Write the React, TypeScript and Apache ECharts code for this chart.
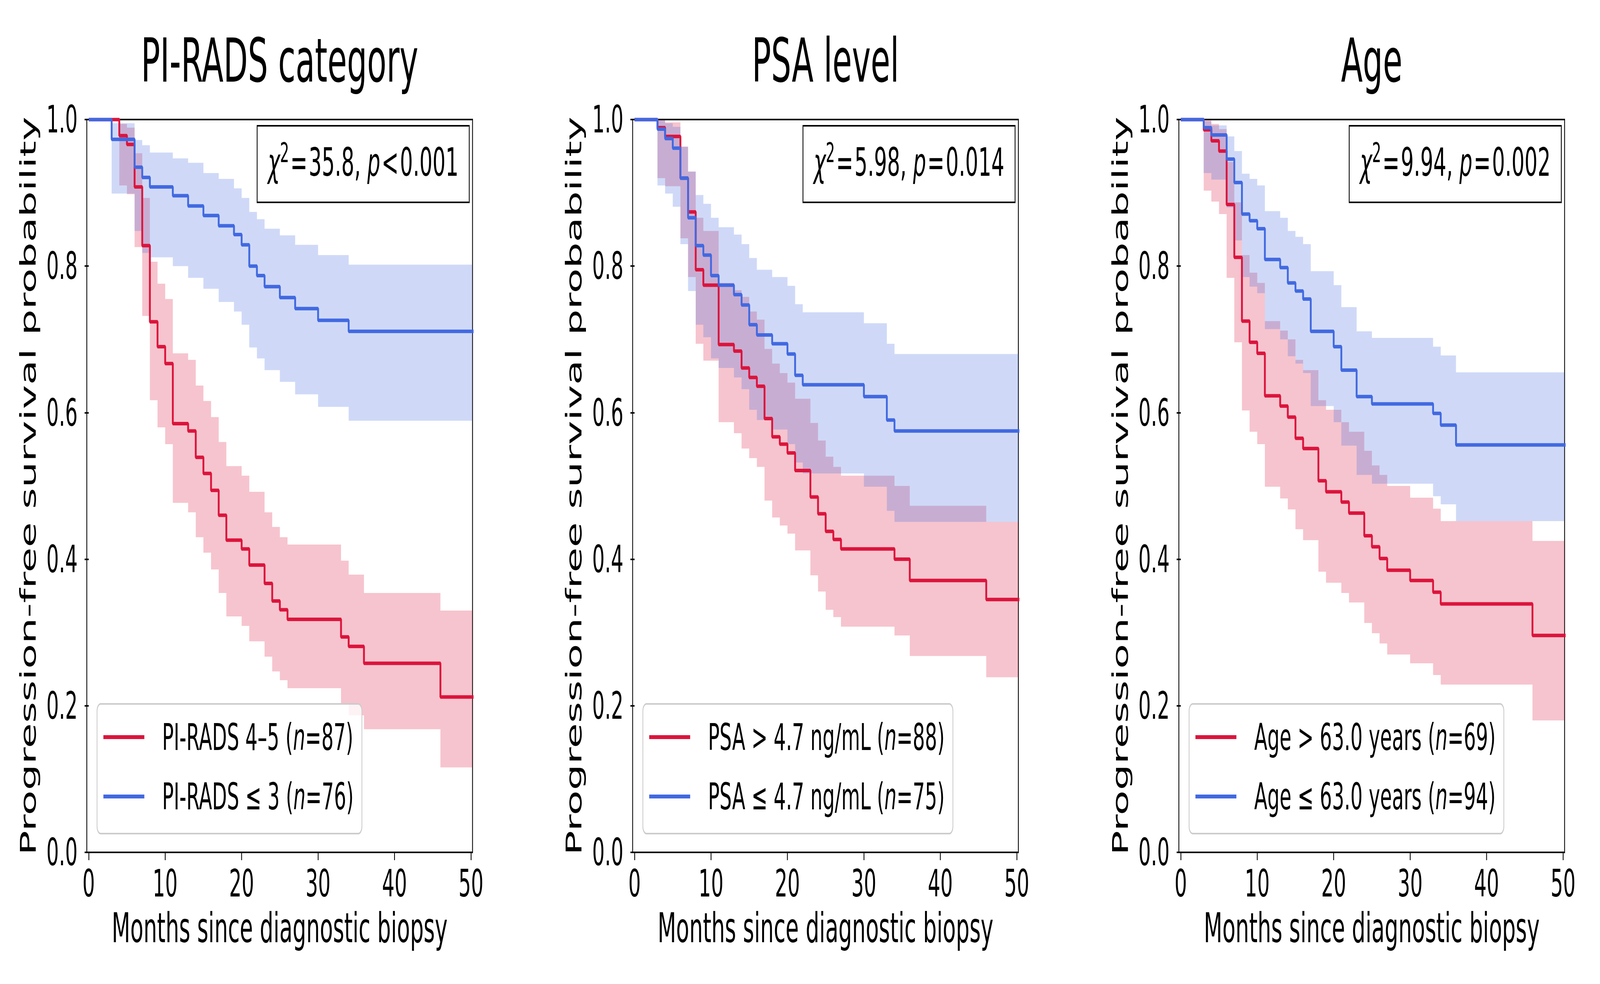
import React, { useEffect, useRef } from 'react';
import * as echarts from 'echarts';

// ---------------- data ----------------
const xTicks = [0, 10, 20, 30, 40, 50];
const yTicks = [0, 0.2, 0.4, 0.6, 0.8, 1.0];

const panelTitles = ['PI-RADS category', 'PSA level', 'Age'];
const chiSquareValues = ['35.8', '5.98', '9.94'];
const pValueTexts = ['<0.001', '=0.014', '=0.002'];
const highGroupLabels = ['PI-RADS 4–5', 'PSA > 4.7 ng/mL', 'Age > 63.0 years'];
const lowGroupLabels = ['PI-RADS ≤ 3', 'PSA ≤ 4.7 ng/mL', 'Age ≤ 63.0 years'];
const highGroupN = [87, 88, 69];
const lowGroupN = [76, 75, 94];

// Panel 1: PI-RADS 4–5
const piradsHighTimes = [0, 4, 5, 6, 7, 8, 9, 10, 11, 13, 14, 15, 16, 17, 18, 20, 21, 23, 24, 25, 26, 33, 34, 36, 46];
const piradsHighSurv = [1, 0.978, 0.966, 0.908, 0.828, 0.724, 0.69, 0.667, 0.585, 0.575, 0.539, 0.517, 0.494, 0.46, 0.426, 0.414, 0.392, 0.367, 0.343, 0.331, 0.318, 0.294, 0.281, 0.258, 0.212];
const piradsHighUpper = [1, 0.994, 0.989, 0.954, 0.893, 0.806, 0.776, 0.755, 0.681, 0.672, 0.637, 0.616, 0.594, 0.56, 0.527, 0.514, 0.492, 0.464, 0.444, 0.43, 0.42, 0.398, 0.379, 0.354, 0.33];
const piradsHighLower = [1, 0.91, 0.898, 0.826, 0.732, 0.617, 0.58, 0.557, 0.477, 0.464, 0.43, 0.409, 0.386, 0.354, 0.322, 0.309, 0.288, 0.267, 0.247, 0.235, 0.224, 0.202, 0.187, 0.168, 0.116];
// Panel 1: PI-RADS ≤ 3
const piradsLowTimes = [0, 3, 6, 7, 8, 11, 13, 15, 17, 19, 20, 21, 22, 23, 25, 27, 30, 34];
const piradsLowSurv = [1, 0.973, 0.935, 0.921, 0.908, 0.896, 0.882, 0.869, 0.855, 0.843, 0.829, 0.8, 0.787, 0.772, 0.757, 0.742, 0.726, 0.711];
const piradsLowUpper = [1, 0.995, 0.972, 0.965, 0.955, 0.947, 0.941, 0.927, 0.919, 0.906, 0.893, 0.874, 0.864, 0.851, 0.842, 0.829, 0.815, 0.802];
const piradsLowLower = [1, 0.899, 0.848, 0.818, 0.812, 0.8, 0.784, 0.769, 0.751, 0.738, 0.72, 0.689, 0.674, 0.658, 0.642, 0.625, 0.608, 0.589];

// Panel 2: PSA > 4.7
const psaHighTimes = [0, 3, 4, 6, 7, 8, 9, 11, 13, 14, 15, 16, 17, 18, 19, 20, 21, 23, 24, 25, 26, 27, 34, 36, 46];
const psaHighSurv = [1, 0.989, 0.977, 0.92, 0.874, 0.795, 0.774, 0.693, 0.684, 0.661, 0.648, 0.636, 0.592, 0.567, 0.557, 0.545, 0.521, 0.485, 0.462, 0.438, 0.427, 0.414, 0.4, 0.371, 0.345];
const psaHighUpper = [1, 1, 0.996, 0.963, 0.929, 0.866, 0.848, 0.777, 0.767, 0.758, 0.738, 0.727, 0.687, 0.667, 0.654, 0.641, 0.619, 0.586, 0.562, 0.54, 0.526, 0.514, 0.5, 0.473, 0.451];
const psaHighLower = [1, 0.92, 0.909, 0.838, 0.785, 0.694, 0.671, 0.587, 0.572, 0.551, 0.538, 0.526, 0.48, 0.457, 0.446, 0.435, 0.412, 0.378, 0.356, 0.331, 0.321, 0.308, 0.296, 0.268, 0.239];
// Panel 2: PSA ≤ 4.7
const psaLowTimes = [0, 3, 4, 5, 6, 7, 8, 9, 10, 11, 13, 14, 15, 16, 18, 20, 21, 22, 30, 33, 34];
const psaLowSurv = [1, 0.987, 0.974, 0.961, 0.92, 0.866, 0.828, 0.815, 0.787, 0.774, 0.761, 0.747, 0.72, 0.706, 0.694, 0.68, 0.651, 0.638, 0.622, 0.59, 0.575];
const psaLowUpper = [1, 0.999, 0.995, 0.99, 0.963, 0.929, 0.897, 0.885, 0.866, 0.853, 0.843, 0.83, 0.811, 0.795, 0.785, 0.773, 0.748, 0.737, 0.722, 0.694, 0.68];
const psaLowLower = [1, 0.91, 0.899, 0.881, 0.83, 0.766, 0.72, 0.703, 0.674, 0.661, 0.648, 0.632, 0.604, 0.59, 0.577, 0.557, 0.532, 0.517, 0.499, 0.466, 0.451];

// Panel 3: Age > 63.0
const ageHighTimes = [0, 3, 4, 5, 6, 7, 8, 9, 10, 11, 13, 14, 15, 16, 18, 19, 21, 22, 24, 25, 26, 27, 30, 33, 34, 46];
const ageHighSurv = [1, 0.986, 0.971, 0.957, 0.884, 0.812, 0.725, 0.696, 0.681, 0.623, 0.609, 0.594, 0.565, 0.551, 0.507, 0.492, 0.478, 0.463, 0.432, 0.417, 0.401, 0.385, 0.371, 0.355, 0.339, 0.296];
const ageHighUpper = [1, 1, 0.994, 0.987, 0.942, 0.887, 0.815, 0.791, 0.777, 0.725, 0.712, 0.7, 0.672, 0.658, 0.617, 0.604, 0.587, 0.574, 0.548, 0.528, 0.515, 0.5, 0.484, 0.469, 0.452, 0.425];
const ageHighLower = [1, 0.903, 0.888, 0.871, 0.784, 0.696, 0.603, 0.574, 0.557, 0.499, 0.483, 0.468, 0.441, 0.426, 0.383, 0.368, 0.354, 0.341, 0.313, 0.299, 0.285, 0.27, 0.258, 0.242, 0.229, 0.18];
// Panel 3: Age ≤ 63.0
const ageLowTimes = [0, 3, 4, 6, 7, 8, 9, 10, 11, 13, 14, 15, 16, 17, 20, 21, 23, 25, 33, 34, 36];
const ageLowSurv = [1, 0.989, 0.979, 0.946, 0.914, 0.871, 0.862, 0.851, 0.809, 0.798, 0.777, 0.766, 0.755, 0.711, 0.69, 0.658, 0.622, 0.612, 0.599, 0.583, 0.556];
const ageLowUpper = [1, 0.998, 0.992, 0.977, 0.957, 0.926, 0.919, 0.91, 0.875, 0.866, 0.848, 0.84, 0.83, 0.793, 0.774, 0.744, 0.711, 0.702, 0.69, 0.678, 0.655];
const ageLowLower = [1, 0.927, 0.918, 0.88, 0.835, 0.785, 0.772, 0.763, 0.714, 0.7, 0.677, 0.667, 0.654, 0.609, 0.587, 0.555, 0.515, 0.503, 0.486, 0.475, 0.452];

// last follow-up time (beyond the visible axis range, clipped)
const followUpEnd = 52;

// ---------------- styling / layout ----------------
const RED = '#DC143C';
const BLUE = '#4169E1';
const RED_BAND = 'rgba(220,20,60,0.25)';
const BLUE_BAND = 'rgba(65,105,225,0.25)';
const FONT = 'DejaVu Sans';
const W_TOTAL = 7815;
const H_TOTAL = 2519;
const PLOT_LEFTS = [424, 3090, 5758];
const PLOT_TOP = 306;
const PLOT_W = 1884;
const PLOT_H = 1876;

const groups = [
  {
    high: { t: piradsHighTimes, s: piradsHighSurv, u: piradsHighUpper, l: piradsHighLower },
    low: { t: piradsLowTimes, s: piradsLowSurv, u: piradsLowUpper, l: piradsLowLower },
  },
  {
    high: { t: psaHighTimes, s: psaHighSurv, u: psaHighUpper, l: psaHighLower },
    low: { t: psaLowTimes, s: psaLowSurv, u: psaLowUpper, l: psaLowLower },
  },
  {
    high: { t: ageHighTimes, s: ageHighSurv, u: ageHighUpper, l: ageHighLower },
    low: { t: ageLowTimes, s: ageLowSurv, u: ageLowUpper, l: ageLowLower },
  },
];

function stepData(times: number[], values: number[]) {
  const pts = times.map((t, i) => [t, values[i]]);
  pts.push([followUpEnd, values[values.length - 1]]);
  return pts;
}

// confidence band as a custom series: a step polygon drawn through api.coord
function bandSeries(p: number, key: string, g: any, fill: string) {
  return {
    type: 'custom',
    name: `band-${p}-${key}`,
    xAxisIndex: p,
    yAxisIndex: p,
    silent: true,
    z: 2,
    clip: true,
    encode: { x: 0, y: [1, 2] },
    data: g.t.map((t: number, i: number) => [t, g.l[i], g.u[i]]),
    renderItem: (params: any, api: any) => {
      if (params.dataIndex !== 0) return null;
      const cs = params.coordSys;
      const left = cs.x;
      const right = cs.x + cs.width;
      const upper: number[][] = [];
      const lower: number[][] = [];
      for (let i = 0; i < g.t.length; i++) {
        const t0 = g.t[i];
        const t1 = i + 1 < g.t.length ? g.t[i + 1] : followUpEnd;
        upper.push(api.coord([t0, g.u[i]]), api.coord([t1, g.u[i]]));
        lower.push(api.coord([t0, g.l[i]]), api.coord([t1, g.l[i]]));
      }
      const pts = upper
        .concat(lower.reverse())
        .map((pt) => [Math.min(Math.max(pt[0], left), right), pt[1]]);
      return {
        type: 'polygon',
        shape: { points: pts },
        style: { fill, stroke: 'none' },
        silent: true,
      };
    },
  };
}

function lineSeries(p: number, name: string, g: any, color: string) {
  return {
    type: 'line',
    name,
    xAxisIndex: p,
    yAxisIndex: p,
    step: 'end',
    symbol: 'none',
    silent: true,
    z: 3,
    color,
    itemStyle: { color },
    lineStyle: { color, width: 9 },
    emphasis: { disabled: true },
    data: stepData(g.t, g.s),
  };
}

const legendRich = {
  a: { fontFamily: FONT, fontSize: 94, color: '#000', padding: [0, 0, 0, 82] },
  i: { fontFamily: FONT, fontSize: 94, color: '#000', fontStyle: 'italic' },
  t: { fontFamily: FONT, fontSize: 94, color: '#000' },
};

const statRich = {
  t: { fontFamily: FONT, fontSize: 100, lineHeight: 120, color: '#000' },
  ci: { fontFamily: FONT, fontSize: 100, lineHeight: 120, color: '#000', fontStyle: 'italic' },
  op: { fontFamily: FONT, fontSize: 100, lineHeight: 120, color: '#000', padding: [0, 6] },
  sup: { fontFamily: FONT, fontSize: 70, lineHeight: 70, color: '#000', verticalAlign: 'top' },
};

function buildOption() {
  const grid: any[] = [];
  const xAxis: any[] = [];
  const yAxis: any[] = [];
  const series: any[] = [];
  const legend: any[] = [];
  const graphic: any[] = [];

  for (let p = 0; p < 3; p++) {
    const L = PLOT_LEFTS[p];
    grid.push({
      left: L,
      top: PLOT_TOP,
      width: PLOT_W,
      height: PLOT_H,
      show: true,
      borderColor: '#000',
      borderWidth: 4,
      backgroundColor: 'transparent',
      containLabel: false,
    });
    xAxis.push({
      type: 'value',
      gridIndex: p,
      min: -0.25,
      max: 50.2,
      name: 'Months since diagnostic biopsy',
      nameLocation: 'middle',
      nameGap: 141,
      nameTextStyle: { fontFamily: FONT, fontSize: 105, color: '#000' },
      axisLine: { show: false },
      axisTick: { show: true, length: 20, lineStyle: { color: '#000', width: 4 }, customValues: xTicks },
      axisLabel: { show: true, margin: 32, fontFamily: FONT, fontSize: 96, color: '#000', customValues: xTicks },
      splitLine: { show: false },
    });
    yAxis.push({
      type: 'value',
      gridIndex: p,
      min: 0,
      max: 1,
      name: 'Progression-free survival probability',
      nameLocation: 'middle',
      nameGap: 234,
      nameRotate: 90,
      nameTextStyle: { fontFamily: FONT, fontSize: 105, color: '#000' },
      axisLine: { show: false },
      axisTick: { show: true, length: 20, lineStyle: { color: '#000', width: 4 }, customValues: yTicks },
      axisLabel: {
        show: true,
        margin: 45,
        fontFamily: FONT,
        fontSize: 96,
        color: '#000',
        customValues: yTicks,
        formatter: (v: number) => v.toFixed(1),
      },
      splitLine: { show: false },
    });

    const g = groups[p];
    const highName = `${highGroupLabels[p]} (n=${highGroupN[p]})`;
    const lowName = `${lowGroupLabels[p]} (n=${lowGroupN[p]})`;
    series.push(bandSeries(p, 'high', g.high, RED_BAND));
    series.push(bandSeries(p, 'low', g.low, BLUE_BAND));
    series.push(lineSeries(p, highName, g.high, RED));
    series.push(lineSeries(p, lowName, g.low, BLUE));

    legend.push({
      data: [
        { name: highName, itemStyle: { color: RED } },
        { name: lowName, itemStyle: { color: BLUE } },
      ],
      orient: 'vertical',
      left: L + 50,
      bottom: H_TOTAL - 2134,
      icon: 'rect',
      itemWidth: 200,
      itemHeight: 10,
      itemGap: 58,
      padding: [38, 40, 48, 31],
      backgroundColor: 'rgba(255,255,255,0.8)',
      borderColor: '#cccccc',
      borderWidth: 4,
      borderRadius: 18,
      selectedMode: false,
      textStyle: { fontFamily: FONT, fontSize: 94, color: '#000', rich: legendRich },
      formatter: (name: string) => {
        const m = name.match(/^(.*) \(n=(\d+)\)$/);
        if (!m) return name;
        return `{a|${m[1]} (}{i|n}{t|=${m[2]})}`;
      },
    });

    graphic.push({
      type: 'text',
      x: L + PLOT_W / 2,
      y: 155,
      silent: true,
      style: {
        text: panelTitles[p],
        fontFamily: FONT,
        fontSize: 155,
        fill: '#000',
        align: 'center',
        verticalAlign: 'middle',
        textAlign: 'center',
        textVerticalAlign: 'middle',
      },
    });

    const boxW = 1036;
    const boxH = 196;
    const boxX = L + PLOT_W - 16 - boxW;
    const boxY = PLOT_TOP + 16;
    graphic.push({
      type: 'rect',
      x: boxX,
      y: boxY,
      silent: true,
      z: 10,
      shape: { x: 0, y: 0, width: boxW, height: boxH },
      style: { fill: '#fff', stroke: '#000', lineWidth: 4 },
    });
    const pOp = pValueTexts[p].charAt(0);
    const pNum = pValueTexts[p].slice(1);
    graphic.push({
      type: 'text',
      x: boxX + boxW / 2,
      y: boxY + 94,
      silent: true,
      z: 11,
      style: {
        text: `{ci|χ}{sup|2}{op|=}{t|${chiSquareValues[p]}, }{ci|p}{op|${pOp}}{t|${pNum}}`,
        rich: statRich,
        fontFamily: FONT,
        fontSize: 100,
        fill: '#000',
        align: 'center',
        verticalAlign: 'middle',
        textAlign: 'center',
        textVerticalAlign: 'middle',
      },
    });
  }

  return {
    animation: false,
    backgroundColor: '#ffffff',
    grid,
    xAxis,
    yAxis,
    series,
    legend,
    graphic,
  };
}

export default function App() {
  const ref = useRef<HTMLDivElement | null>(null);
  // the browser window may be narrower than the figure: draw the full figure
  // and fit it into the visible window
  const vw = typeof window !== 'undefined' ? window.innerWidth : W_TOTAL;
  const vh = typeof window !== 'undefined' ? window.innerHeight : H_TOTAL;
  const sx = vw / W_TOTAL;
  const sy = vh / H_TOTAL;

  useEffect(() => {
    if (!ref.current) return;
    const chart = echarts.init(ref.current, undefined, { renderer: 'svg' });
    chart.setOption(buildOption() as any);
    return () => {
      chart.dispose();
    };
  }, []);

  return (
    <div
      style={{
        position: 'fixed',
        left: 0,
        top: 0,
        width: vw,
        height: vh,
        overflow: 'hidden',
        background: '#fff',
      }}
    >
      <div
        ref={ref}
        style={{
          position: 'absolute',
          left: 0,
          top: 0,
          width: W_TOTAL,
          height: H_TOTAL,
          background: '#fff',
          transformOrigin: '0 0',
          transform: `scale(${sx}, ${sy})`,
        }}
      />
    </div>
  );
}
